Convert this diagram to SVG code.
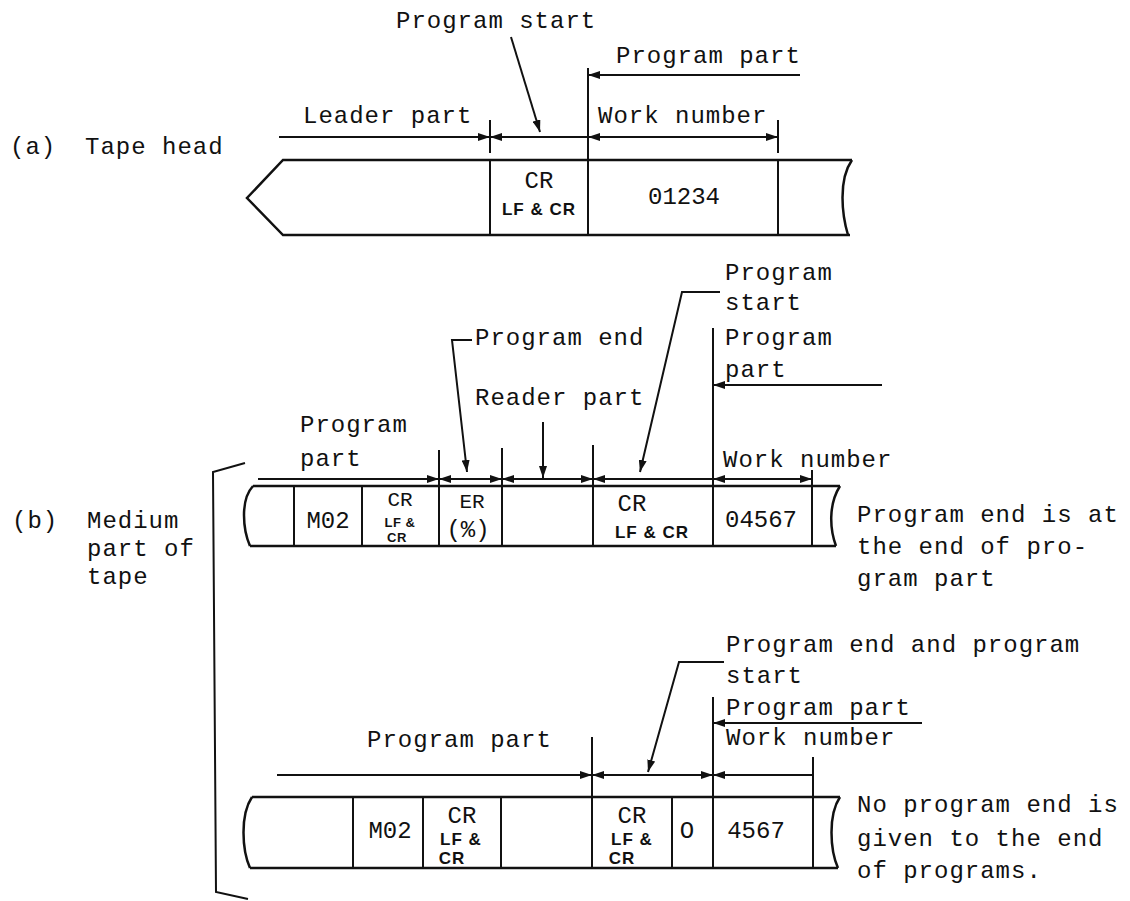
<svg xmlns="http://www.w3.org/2000/svg" width="1130" height="901" viewBox="0 0 1130 901">
<style>
.t{font-family:"Liberation Mono","DejaVu Sans Mono",monospace;font-size:24px;letter-spacing:1px;fill:#111}
.c{font-family:"Liberation Mono","DejaVu Sans Mono",monospace;font-size:24px;fill:#111;text-anchor:middle}
.c2{font-family:"Liberation Mono","DejaVu Sans Mono",monospace;font-size:21px;fill:#111;text-anchor:middle}
.s{font-family:"Liberation Sans",Arial,sans-serif;font-weight:bold;font-size:17px;letter-spacing:1px;fill:#111;text-anchor:middle}
.s2{font-family:"Liberation Sans",Arial,sans-serif;font-weight:bold;font-size:13px;letter-spacing:0.5px;fill:#111;text-anchor:middle}
.ln{stroke:#111;stroke-width:2;fill:none}
.tp{stroke:#111;stroke-width:2.5;fill:none}
</style>
<defs>
<marker id="ah" viewBox="0 0 12 8" refX="12" refY="4" markerWidth="12" markerHeight="8" markerUnits="userSpaceOnUse" orient="auto-start-reverse"><path d="M0,0 L12,4 L0,8 Z" fill="#111"/></marker>
</defs>
<rect width="1130" height="901" fill="#fff"/>

<g id="label-a">
<text class="t" x="10" y="154">(a)</text>
<text class="t" x="85" y="154">Tape head</text>
</g>
<g id="label-b">
<text class="t" x="12" y="528">(b)</text>
<text class="t" x="87" y="528">Medium</text>
<text class="t" x="87" y="556">part of</text>
<text class="t" x="87" y="584">tape</text>
<path class="ln" d="M245 463 L213 472 L216 892 L248 899"/>
</g>

<g id="tape-a">
<path class="tp" d="M852 160 L283 160 L247 198 L283 235 L850 235"/>
<path class="tp" d="M852 160 C838 180 842 215 848 235"/>
<line class="ln" x1="490" y1="160" x2="490" y2="235"/>
<line class="ln" x1="778" y1="160" x2="778" y2="235"/>
<text class="c" x="539" y="188">CR</text>
<text class="s" x="539" y="215">LF &amp; CR</text>
<text class="c" x="684" y="204">01234</text>
</g>

<g id="tape-b1">
<path class="tp" d="M253 486 L840 486 M250 546 L836 546"/>
<path class="tp" d="M253 486 C240 500 243 530 250 546"/>
<path class="tp" d="M840 486 C828 505 830 530 836 546"/>
<line class="ln" x1="294" y1="486" x2="294" y2="546"/>
<line class="ln" x1="362" y1="486" x2="362" y2="546"/>
<line class="ln" x1="439" y1="486" x2="439" y2="546"/>
<line class="ln" x1="502" y1="486" x2="502" y2="546"/>
<line class="ln" x1="593" y1="486" x2="593" y2="546"/>
<line class="ln" x1="812" y1="486" x2="812" y2="546"/>
<text class="c" x="328" y="528">M02</text>
<text class="c2" x="400" y="506">CR</text>
<text class="s2" x="400" y="527">LF &amp;</text>
<text class="s2" x="397" y="542">CR</text>
<text class="c2" x="472" y="508">ER</text>
<text class="c" x="468" y="537">(%)</text>
<text class="c" x="632" y="511">CR</text>
<text class="s" x="652" y="538">LF &amp; CR</text>
<text class="c" x="761" y="527">04567</text>
</g>

<g id="tape-b2">
<path class="tp" d="M252 797 L840 797 M250 868 L838 868"/>
<path class="tp" d="M252 797 C240 815 242 850 250 868"/>
<path class="tp" d="M840 797 C828 815 830 850 838 868"/>
<line class="ln" x1="353" y1="797" x2="353" y2="868"/>
<line class="ln" x1="423" y1="797" x2="423" y2="868"/>
<line class="ln" x1="501" y1="797" x2="501" y2="868"/>
<line class="ln" x1="592" y1="797" x2="592" y2="868"/>
<line class="ln" x1="672" y1="797" x2="672" y2="868"/>
<line class="ln" x1="813" y1="797" x2="813" y2="868"/>
<text class="c" x="390" y="838">M02</text>
<text class="c" x="462" y="823">CR</text>
<text class="s" x="461" y="845">LF &amp;</text>
<text class="s" x="452" y="864">CR</text>
<text class="c" x="632" y="823">CR</text>
<text class="s" x="632" y="845">LF &amp;</text>
<text class="s" x="622" y="864">CR</text>
<text class="c" x="687" y="838">O</text>
<text class="c" x="756" y="838">4567</text>
</g>

<g id="labels">
<text class="t" x="396" y="28">Program start</text>
<text class="t" x="616" y="63">Program part</text>
<text class="t" x="303" y="123">Leader part</text>
<text class="t" x="598" y="123">Work number</text>
<text class="t" x="725" y="280">Program</text>
<text class="t" x="725" y="310">start</text>
<text class="t" x="475" y="345">Program end</text>
<text class="t" x="725" y="345">Program</text>
<text class="t" x="725" y="377">part</text>
<text class="t" x="475" y="405">Reader part</text>
<text class="t" x="300" y="432">Program</text>
<text class="t" x="300" y="466">part</text>
<text class="t" x="723" y="467">Work number</text>
<text class="t" x="857" y="522">Program end is at</text>
<text class="t" x="857" y="554">the end of pro-</text>
<text class="t" x="857" y="586">gram part</text>
<text class="t" x="726" y="652">Program end and program</text>
<text class="t" x="726" y="683">start</text>
<text class="t" x="726" y="715">Program part</text>
<text class="t" x="726" y="745">Work number</text>
<text class="t" x="367" y="747">Program part</text>
<text class="t" x="857" y="812">No program end is</text>
<text class="t" x="857" y="846">given to the end</text>
<text class="t" x="857" y="878">of programs.</text>
</g>

<g id="connectors">
<line class="ln" x1="588" y1="68" x2="588" y2="235"/>
<path class="ln" d="M800 75 L588 75" marker-end="url(#ah)"/>
<line class="ln" x1="490" y1="120" x2="490" y2="153"/>
<line class="ln" x1="778" y1="120" x2="778" y2="153"/>
<path class="ln" d="M279 137 L490 137" marker-end="url(#ah)"/>
<path class="ln" d="M490 137 L588 137" marker-start="url(#ah)"/>
<path class="ln" d="M588 137 L778 137" marker-start="url(#ah)" marker-end="url(#ah)"/>
<path class="ln" d="M511 37 L540 132" marker-end="url(#ah)"/>
<line class="ln" x1="713" y1="328" x2="713" y2="546"/>
<path class="ln" d="M882 385 L713 385" marker-end="url(#ah)"/>
<line class="ln" x1="439" y1="450" x2="439" y2="486"/>
<line class="ln" x1="502" y1="448" x2="502" y2="486"/>
<line class="ln" x1="593" y1="445" x2="593" y2="486"/>
<line class="ln" x1="812" y1="470" x2="812" y2="486"/>
<path class="ln" d="M258 479 L439 479" marker-end="url(#ah)"/>
<path class="ln" d="M439 479 L502 479" marker-start="url(#ah)" marker-end="url(#ah)"/>
<path class="ln" d="M502 479 L593 479" marker-start="url(#ah)" marker-end="url(#ah)"/>
<path class="ln" d="M593 479 L713 479" marker-start="url(#ah)"/>
<path class="ln" d="M713 479 L812 479" marker-start="url(#ah)" marker-end="url(#ah)"/>
<path class="ln" d="M472 340 L452 340 L467 472" marker-end="url(#ah)"/>
<path class="ln" d="M543 422 L543 478" marker-end="url(#ah)"/>
<path class="ln" d="M720 292 L682 292 L640 472" marker-end="url(#ah)"/>
<line class="ln" x1="713" y1="697" x2="713" y2="868"/>
<path class="ln" d="M922 723 L713 723" marker-end="url(#ah)"/>
<line class="ln" x1="592" y1="737" x2="592" y2="797"/>
<line class="ln" x1="813" y1="757" x2="813" y2="797"/>
<path class="ln" d="M277 775 L592 775" marker-end="url(#ah)"/>
<path class="ln" d="M592 775 L713 775" marker-start="url(#ah)" marker-end="url(#ah)"/>
<path class="ln" d="M713 775 L813 775" marker-start="url(#ah)"/>
<path class="ln" d="M724 662 L679 662 L648 772" marker-end="url(#ah)"/>
</g>
</svg>
